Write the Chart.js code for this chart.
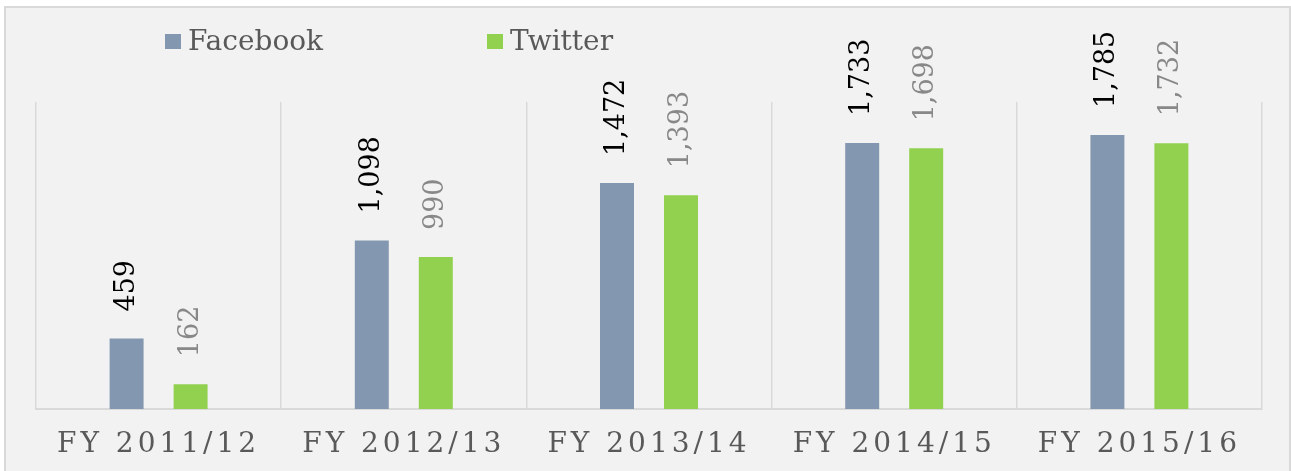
<!DOCTYPE html>
<html><head><meta charset="utf-8">
<script src="https://cdn.jsdelivr.net/npm/chart.js@4.4.1/dist/chart.umd.min.js"></script>
<style>
html,body{margin:0;padding:0;background:#fff;width:1291px;height:471px;overflow:hidden;}
#box{position:absolute;left:4px;top:6px;width:1283px;height:470px;background:#f2f2f2;border:2px solid #d9d9d9;box-sizing:content-box;}
#wrap{position:absolute;left:0;top:0;width:1291px;height:471px;overflow:hidden;}
</style></head><body>
<div id="box"></div>
<div id="wrap"><canvas id="c" width="1291" height="494"></canvas></div>
<script>
const categories = ['FY 2011/12', 'FY 2012/13', 'FY 2013/14', 'FY 2014/15', 'FY 2015/16'];
const facebook = [459, 1098, 1472, 1733, 1785];
const twitter = [162, 990, 1393, 1698, 1732];
const seriesNames = ['Facebook', 'Twitter'];
const yMax = 2000;

const seriesColors = ['#8497b0', '#92d050'];
const labelColors = ['#000000', '#888888'];
const legendX = [165, 487];

const spacingPlugin = {
  id: 'spacing',
  beforeDraw(chart) { chart.ctx.letterSpacing = '4px'; },
  beforeDatasetsDraw(chart) { chart.ctx.letterSpacing = '0px'; }
};

const valueLabels = {
  id: 'valueLabels',
  afterDatasetsDraw(chart) {
    const ctx = chart.ctx;
    chart.data.datasets.forEach((ds, i) => {
      const meta = chart.getDatasetMeta(i);
      meta.data.forEach((el, j) => {
        ctx.save();
        ctx.translate(el.x, el.y - 27);
        ctx.rotate(-Math.PI / 2);
        ctx.font = '27px "DejaVu Serif"';
        ctx.fillStyle = labelColors[i];
        ctx.textAlign = 'left';
        ctx.textBaseline = 'middle';
        ctx.fillText(ds.data[j].toLocaleString('en-US'), 0, 0);
        ctx.restore();
      });
    });
  }
};

const customLegend = {
  id: 'customLegend',
  afterDraw(chart) {
    const ctx = chart.ctx;
    chart.data.datasets.forEach((ds, i) => {
      const x = legendX[i];
      ctx.save();
      ctx.fillStyle = ds.backgroundColor;
      ctx.fillRect(x, 34, 16, 15);
      ctx.font = '28px "DejaVu Serif"';
      ctx.fillStyle = '#595959';
      ctx.textAlign = 'left';
      ctx.textBaseline = 'alphabetic';
      ctx.fillText(ds.label, x + 23, 50);
      ctx.restore();
    });
  }
};

new Chart(document.getElementById('c'), {
  type: 'bar',
  data: {
    labels: categories,
    datasets: [
      { label: seriesNames[0], data: facebook, backgroundColor: seriesColors[0], borderWidth: 0 },
      { label: seriesNames[1], data: twitter, backgroundColor: seriesColors[1], borderWidth: 0 }
    ]
  },
  options: {
    responsive: false,
    devicePixelRatio: 1,
    animation: false,
    categoryPercentage: 0.522,
    barPercentage: 0.531,
    layout: { padding: { left: 36, right: 29, top: 102, bottom: 13 } },
    plugins: { legend: { display: false }, tooltip: { enabled: false }, title: { display: false } },
    scales: {
      x: {
        offset: true,
        grid: { display: true, offset: true, color: '#d9d9d9', lineWidth: 1.5, drawTicks: false },
        border: { display: true, color: '#d9d9d9', width: 2 },
        ticks: { color: '#595959', padding: 22, font: { family: 'DejaVu Serif', size: 28, lineHeight: 1 }, maxRotation: 0, autoSkip: false }
      },
      y: { display: false, min: 0, max: yMax }
    }
  },
  plugins: [spacingPlugin, valueLabels, customLegend]
});
</script>
</body></html>
